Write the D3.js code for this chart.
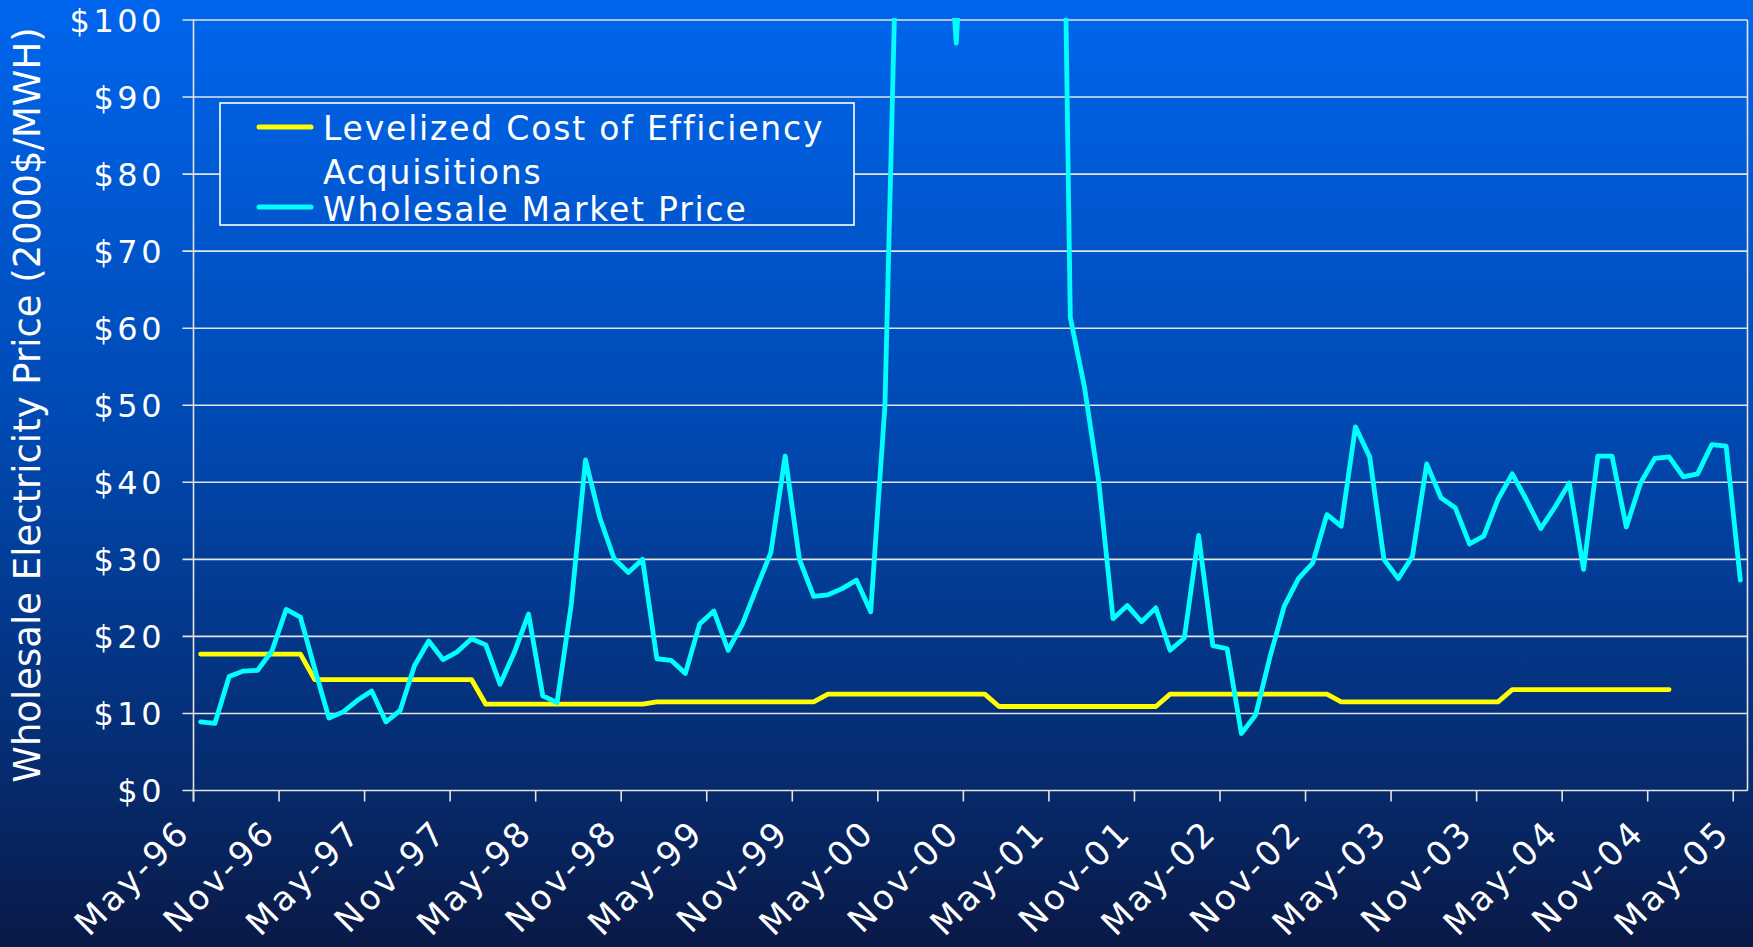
<!DOCTYPE html>
<meta charset="utf-8">
<style>
body { margin: 0; background: #0a1946; }
text { font-family: "DejaVu Sans", Verdana, sans-serif; fill: #fff; }
.grid line { stroke: #e4e4e4; stroke-width: 1.6px; }
.tick-mark { stroke: #e4e4e4; stroke-width: 1.6px; }
.series { fill: none; stroke-width: 4.8px; stroke-linejoin: round; stroke-linecap: round; }
</style>
<body>
<script src="https://d3js.org/d3.v7.min.js"></script>
<script>
// monthly, May-96 .. May-05 (109 months)
var wholesale = [
  8.9, 8.7, 14.8, 15.5, 15.6, 18.1, 23.5, 22.5, 15.8, 9.4,
  10.2, 11.7, 12.9, 8.9, 10.4, 16.2, 19.4, 17.0, 18.0, 19.7,
  18.9, 13.8, 17.9, 22.9, 12.3, 11.4, 24.2, 42.9, 35.4, 30.1,
  28.3, 30.0, 17.1, 16.9, 15.2, 21.6, 23.3, 18.2, 21.6, 26.3,
  30.9, 43.4, 30.0, 25.2, 25.4, 26.2, 27.3, 23.2, 50.0, 126,
  150, 140, 125, 97, 130, 200, 250, 260, 280, 240,
  190, 61.4, 52.3, 40.0, 22.3, 24.0, 21.9, 23.7, 18.2, 19.8,
  33.1, 18.8, 18.4, 7.4, 9.8, 17.3, 23.9, 27.5, 29.5, 35.8,
  34.3, 47.2, 43.3, 30.0, 27.5, 30.4, 42.4, 38.0, 36.7, 32.0,
  33.0, 37.8, 41.1, 37.7, 34.0, 36.8, 39.9, 28.7, 43.4, 43.4,
  34.2, 39.9, 43.1, 43.3, 40.7, 41.1, 44.9, 44.7, 27.3
];

// levelized cost, May-96 .. Dec-04
var levelized = [
  17.7, 17.7, 17.7, 17.7, 17.7, 17.7, 17.7, 17.7,
  14.4, 14.4, 14.4, 14.4, 14.4, 14.4, 14.4, 14.4, 14.4, 14.4, 14.4, 14.4,
  11.2, 11.2, 11.2, 11.2, 11.2, 11.2, 11.2, 11.2, 11.2, 11.2, 11.2, 11.2,
  11.5, 11.5, 11.5, 11.5, 11.5, 11.5, 11.5, 11.5, 11.5, 11.5, 11.5, 11.5,
  12.5, 12.5, 12.5, 12.5, 12.5, 12.5, 12.5, 12.5, 12.5, 12.5, 12.5, 12.5,
  10.9, 10.9, 10.9, 10.9, 10.9, 10.9, 10.9, 10.9, 10.9, 10.9, 10.9, 10.9,
  12.5, 12.5, 12.5, 12.5, 12.5, 12.5, 12.5, 12.5, 12.5, 12.5, 12.5, 12.5,
  11.5, 11.5, 11.5, 11.5, 11.5, 11.5, 11.5, 11.5, 11.5, 11.5, 11.5, 11.5,
  13.1, 13.1, 13.1, 13.1, 13.1, 13.1, 13.1, 13.1, 13.1, 13.1, 13.1, 13.1
];

var tickLabels = ["May-96", "Nov-96", "May-97", "Nov-97", "May-98", "Nov-98", "May-99",
  "Nov-99", "May-00", "Nov-00", "May-01", "Nov-01", "May-02", "Nov-02", "May-03",
  "Nov-03", "May-04", "Nov-04", "May-05"];

var yTicks = [0, 10, 20, 30, 40, 50, 60, 70, 80, 90, 100];

var seriesNames = ["Levelized Cost of Efficiency", "Acquisitions", "Wholesale Market Price"];

var width = 1753, height = 947;
var plotLeft = 193.5, plotRight = 1747.5, plotTop = 20, plotBottom = 790.5;

var fmt = d3.timeFormat("%b-%y");
var months = d3.timeMonth.range(new Date(1996, 4, 1), new Date(2005, 5, 1)).map(fmt);

var x = d3.scaleBand().domain(months).range([plotLeft, plotRight]);
var y = d3.scaleLinear().domain([0, 100]).range([plotBottom, plotTop]);

var svg = d3.select("body").append("svg")
    .attr("width", width)
    .attr("height", height);

var defs = svg.append("defs");
var grad = defs.append("linearGradient")
    .attr("id", "bg")
    .attr("gradientUnits", "userSpaceOnUse")
    .attr("x1", 0).attr("y1", 0).attr("x2", 0).attr("y2", height);
grad.append("stop").attr("offset", 0).attr("stop-color", "#0066ee");
grad.append("stop").attr("offset", 0.45).attr("stop-color", "#0049b2");
grad.append("stop").attr("offset", 0.83).attr("stop-color", "#062a6c");
grad.append("stop").attr("offset", 1).attr("stop-color", "#0a1946");

defs.append("clipPath").attr("id", "plot")
  .append("rect")
    .attr("x", plotLeft).attr("y", plotTop - 2)
    .attr("width", plotRight - plotLeft).attr("height", plotBottom - plotTop + 2);

svg.append("rect")
    .attr("width", width).attr("height", height)
    .attr("fill", "url(#bg)");

// gridlines + y ticks
var grid = svg.append("g").attr("class", "grid");
grid.selectAll("line")
    .data(yTicks)
  .enter().append("line")
    .attr("x1", plotLeft - 11).attr("x2", plotRight)
    .attr("y1", function(d) { return y(d); })
    .attr("y2", function(d) { return y(d); });

svg.append("g").selectAll("text")
    .data(yTicks)
  .enter().append("text")
    .attr("x", 165)
    .attr("y", function(d) { return y(d) + 11.5; })
    .attr("text-anchor", "end")
    .style("font-size", "32px")
    .style("letter-spacing", "3.5px")
    .text(function(d) { return "$" + d; });

// axis frame
svg.append("line").attr("class", "tick-mark")
    .attr("x1", plotLeft).attr("x2", plotLeft).attr("y1", plotTop).attr("y2", plotBottom + 11);
svg.append("line").attr("class", "tick-mark")
    .attr("x1", plotRight).attr("x2", plotRight).attr("y1", plotTop).attr("y2", plotBottom);

// x ticks every 6 months
var tickMonths = tickLabels.map(function(d, i) { return months[i * 6]; });
svg.append("g").selectAll("line")
    .data(tickMonths)
  .enter().append("line")
    .attr("class", "tick-mark")
    .attr("x1", function(d) { return x(d); })
    .attr("x2", function(d) { return x(d); })
    .attr("y1", plotBottom).attr("y2", plotBottom + 11);

svg.append("g").selectAll("text")
    .data(tickLabels)
  .enter().append("text")
    .attr("transform", function(d, i) {
      return "translate(" + (x(tickMonths[i]) - 1) + ",834) rotate(-45)";
    })
    .attr("text-anchor", "end")
    .style("font-size", "34px")
    .style("letter-spacing", "3.5px")
    .text(function(d) { return d; });

// y axis title
svg.append("text")
    .attr("transform", "translate(40,405) rotate(-90)")
    .attr("text-anchor", "middle")
    .style("font-size", "37px")
    .text("Wholesale Electricity Price (2000$/MWH)");

// series
var line = d3.line()
    .x(function(d, i) { return x(months[i]) + x.bandwidth() / 2; })
    .y(function(d) { return y(d); });

var plot = svg.append("g").attr("clip-path", "url(#plot)");
plot.append("path")
    .datum(levelized)
    .attr("class", "series")
    .attr("stroke", "#ffff00")
    .attr("d", line);
plot.append("path")
    .datum(wholesale)
    .attr("class", "series")
    .attr("stroke", "#00ffff")
    .attr("d", line);

// legend
var legend = svg.append("g");
legend.append("rect")
    .attr("x", 220).attr("y", 103)
    .attr("width", 634).attr("height", 122)
    .attr("fill", "url(#bg)")
    .attr("stroke", "#ffffff")
    .attr("stroke-width", 1.6);
legend.append("line")
    .attr("x1", 259).attr("x2", 311).attr("y1", 127).attr("y2", 127)
    .attr("stroke", "#ffff00").attr("stroke-width", 5).attr("stroke-linecap", "round");
legend.append("line")
    .attr("x1", 259).attr("x2", 311).attr("y1", 207).attr("y2", 207)
    .attr("stroke", "#00ffff").attr("stroke-width", 5).attr("stroke-linecap", "round");
legend.selectAll("text")
    .data(seriesNames)
  .enter().append("text")
    .attr("x", 323)
    .attr("y", function(d, i) { return [140, 184, 221][i]; })
    .style("font-size", "33px")
    .style("letter-spacing", "1.8px")
    .text(function(d) { return d; });
</script>
